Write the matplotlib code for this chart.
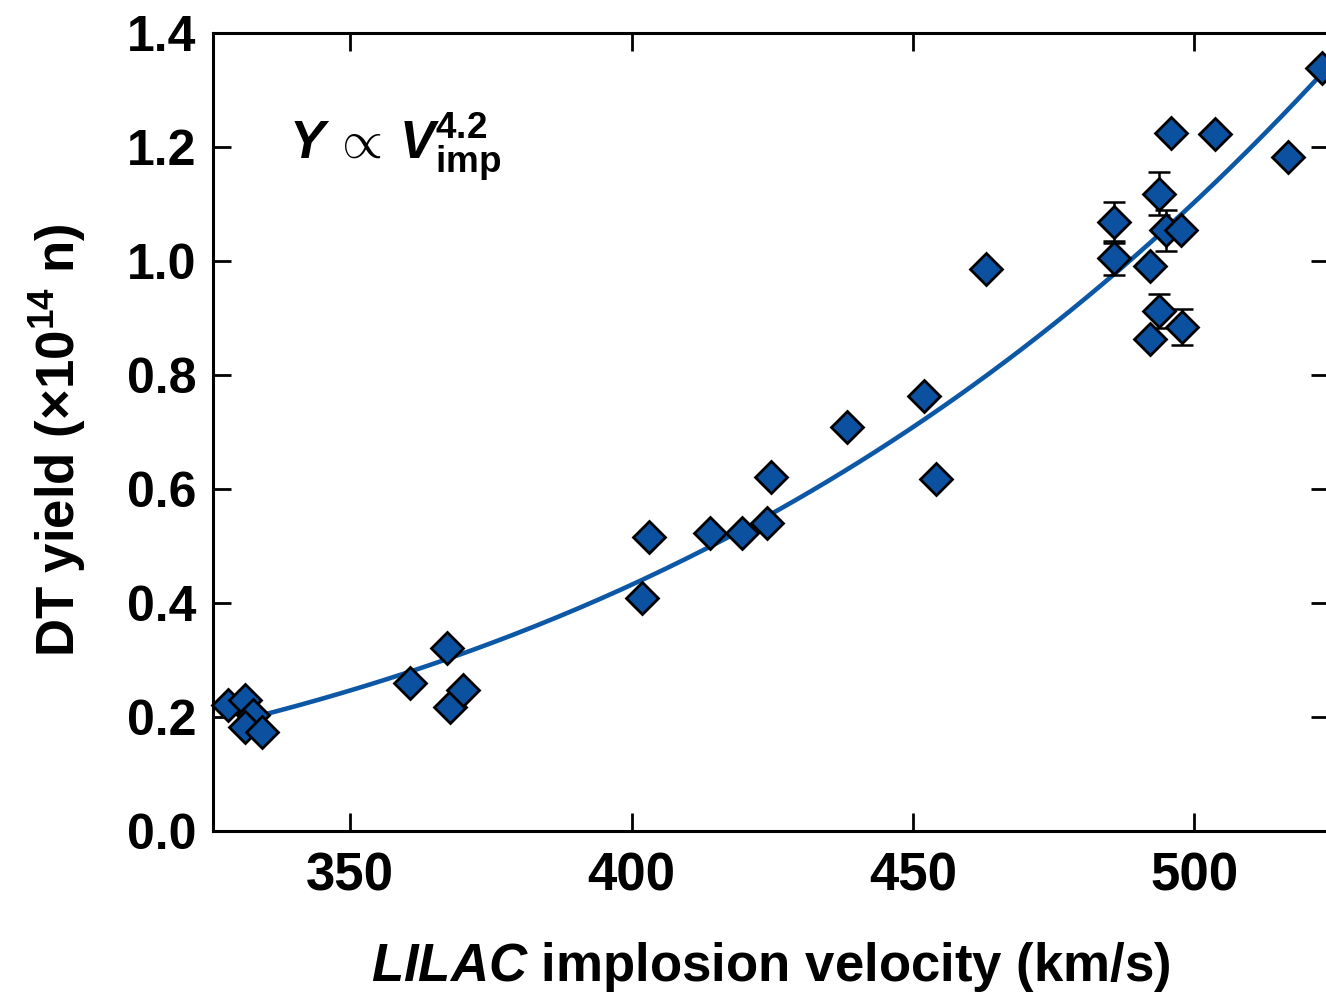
#DT yield vs LILAC implosion velocity
import numpy as np
import matplotlib.pyplot as plt

plt.rcParams['font.family'] = ['Liberation Sans', 'DejaVu Sans']
plt.rcParams['font.weight'] = 'bold'
plt.rcParams['mathtext.fontset'] = 'custom'
plt.rcParams['mathtext.rm'] = 'Liberation Sans:bold'
plt.rcParams['mathtext.bf'] = 'Liberation Sans:bold'
plt.rcParams['mathtext.bfit'] = 'Liberation Sans:bold:italic'
plt.rcParams['mathtext.it'] = 'Liberation Sans:bold:italic'

#shot data
velocity = [328.3, 331.3, 332.7, 331.3, 334.3, 360.6, 367.2, 367.7, 370.0,
            401.9, 403.1, 413.9, 419.6, 424.1, 424.8, 438.3, 452.0, 454.1,
            463.0, 485.7, 485.7, 492.1, 492.1, 493.7, 493.7, 495.0, 495.9,
            497.6, 497.8, 503.7, 516.6, 522.7]
dt_yield = [0.221, 0.230, 0.204, 0.182, 0.174, 0.260, 0.321, 0.218, 0.247,
            0.409, 0.516, 0.523, 0.523, 0.540, 0.621, 0.709, 0.763, 0.618,
            0.986, 1.068, 1.005, 0.991, 0.863, 1.118, 0.912, 1.054, 1.225,
            1.054, 0.884, 1.223, 1.182, 1.339]

#points with error bars
err_v = [485.7, 485.7, 493.7, 493.7, 495.0, 497.8]
err_y = [1.068, 1.005, 1.118, 0.912, 1.054, 0.884]
err_dy = [0.036, 0.030, 0.038, 0.030, 0.036, 0.032]

#power-law fit Y = A (V/400)^4.2
fit_coef = 0.432
fit_exp = 4.2
v_fit = np.linspace(333, 524, 200)
y_fit = fit_coef * (v_fit / 400.0) ** fit_exp

blue = '#0b51a0'

fig = plt.figure(figsize=(13.26, 9.92), dpi=100)
ax = fig.add_axes([0.1606, 0.1623, 0.8414, 0.8044])

ax.plot(v_fit, y_fit, color='#0d58a6', lw=3.3, zorder=2)
ax.errorbar(err_v, err_y, yerr=err_dy, fmt='none', ecolor='black',
            elinewidth=1.8, capsize=8, capthick=1.8, zorder=3)
ax.plot(velocity, dt_yield, 'D', ms=16.5, mfc=blue, mec='black', mew=2,
        zorder=4, clip_on=False)

ax.set_xlim(325.6, 523.9)
ax.set_ylim(0, 1.4)
ax.set_xticks([350, 400, 450, 500])
ax.set_yticks(np.arange(0, 1.41, 0.2))
ax.set_yticklabels(['%.1f' % t for t in np.arange(0, 1.41, 0.2)])

ax.tick_params(direction='in', length=13, width=2, top=True, right=True)
ax.tick_params(axis='x', labelsize=38, pad=15)
ax.tick_params(axis='y', labelsize=36, pad=12)
for lab in ax.get_xticklabels() + ax.get_yticklabels():
    lab.set_fontweight('bold')
for sp in ax.spines.values():
    sp.set_linewidth(2.2)

ax.set_xlabel(r'$\mathit{LILAC}$ implosion velocity (km/s)', fontsize=38,
              fontweight='bold')
ax.xaxis.set_label_coords(0.5, -0.137)
ax.set_ylabel(r'DT yield ($\times$10$^{\mathbf{14}}$ n)', fontsize=38,
              fontweight='bold')
ax.yaxis.set_label_coords(-0.112, 0.49)

ax.text(0.068, 0.858, r'$\mathbfit{Y}\,\propto\,\mathbfit{V}_{\mathbf{imp}}^{\mathbf{4.2}}$',
        transform=ax.transAxes, fontsize=38, va='center', ha='left')

fig.savefig('out.png', dpi=100)
